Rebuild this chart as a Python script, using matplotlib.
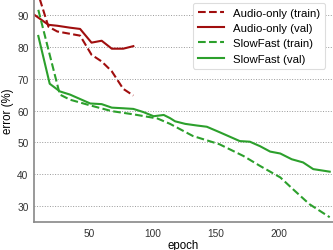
import matplotlib
matplotlib.use("Agg")
import matplotlib.pyplot as plt

# values
audio_train_epoch = [8, 18, 25, 43, 52, 60, 68, 77, 85]
audio_train_err = [99.0, 86.3, 84.8, 83.5, 77.5, 75.4, 72.3, 66.8, 64.7]

audio_val_epoch = [7, 18, 25, 35, 43, 52, 60, 68, 77, 85]
audio_val_err = [90.0, 86.9, 86.6, 86.0, 85.6, 81.3, 81.9, 79.4, 79.4, 80.2]

sf_train_epoch = [10, 19, 27, 35, 51, 68, 85, 104, 114, 132, 153, 172,
                  185, 201, 211, 224, 240]
sf_train_err = [91.6, 77.5, 65.0, 63.4, 61.6, 59.8, 58.8, 57.5, 55.8, 52.0,
                49.4, 45.7, 42.6, 39.0, 35.3, 30.6, 26.5]

sf_val_epoch = [10, 19, 27, 35, 43, 51, 60, 68, 77, 85, 93, 101, 109, 114,
                118, 126, 135, 143, 153, 161, 169, 177, 185, 193, 201, 210,
                219, 227, 240]
sf_val_err = [83.4, 68.4, 66.0, 65.0, 63.6, 62.2, 62.0, 60.9, 60.7, 60.5,
              59.5, 58.2, 58.6, 57.6, 56.6, 55.8, 55.3, 54.9, 53.2, 51.8,
              50.4, 50.2, 48.8, 47.1, 46.5, 44.7, 43.7, 41.6, 40.8]

plt.rcParams["font.family"] = ["Liberation Sans", "DejaVu Sans"]
plt.rcParams["font.size"] = 7

RED = "#a00e0e"
GREEN = "#2ca02c"

fig = plt.figure(figsize=(3.33, 2.51), dpi=100)
ax = fig.add_axes([34 / 333, 1 - 223 / 251, 1 - 34 / 333, 223 / 251])

ax.plot(audio_train_epoch, audio_train_err, "--", color=RED, lw=1.5,
        label="Audio-only (train)")
ax.plot(audio_val_epoch, audio_val_err, "-", color=RED, lw=1.5,
        label="Audio-only (val)")
ax.plot(sf_train_epoch, sf_train_err, "--", color=GREEN, lw=1.5,
        label="SlowFast (train)")
ax.plot(sf_val_epoch, sf_val_err, "-", color=GREEN, lw=1.5,
        label="SlowFast (val)")

ax.set_xlim(6.6, 242.6)
ax.set_ylim(25, 95)
ax.set_xticks([50, 100, 150, 200])
ax.set_yticks([30, 40, 50, 60, 70, 80, 90])
ax.tick_params(length=0, pad=4, labelsize=7.3, colors="#333333")
ax.grid(axis="y", linestyle=":", color="#999999", lw=0.7)
ax.set_axisbelow(True)
for s in ("top", "right"):
    ax.spines[s].set_visible(False)
for s in ("left", "bottom"):
    ax.spines[s].set_color("#888888")
    ax.spines[s].set_linewidth(1.2)

ax.set_xlabel("epoch", fontsize=8.3, labelpad=1)
ax.set_ylabel("error (%)", fontsize=8.3, labelpad=2)

leg = ax.legend(loc="upper right", fontsize=8.2, frameon=True, framealpha=1,
                edgecolor="#dddddd", handlelength=2.25, handletextpad=0.8,
                borderpad=0.45, labelspacing=0.45, borderaxespad=0,
                bbox_to_anchor=(0.973, 0.982))
leg.get_frame().set_linewidth(0.8)

fig.savefig("out.png", dpi=100)
